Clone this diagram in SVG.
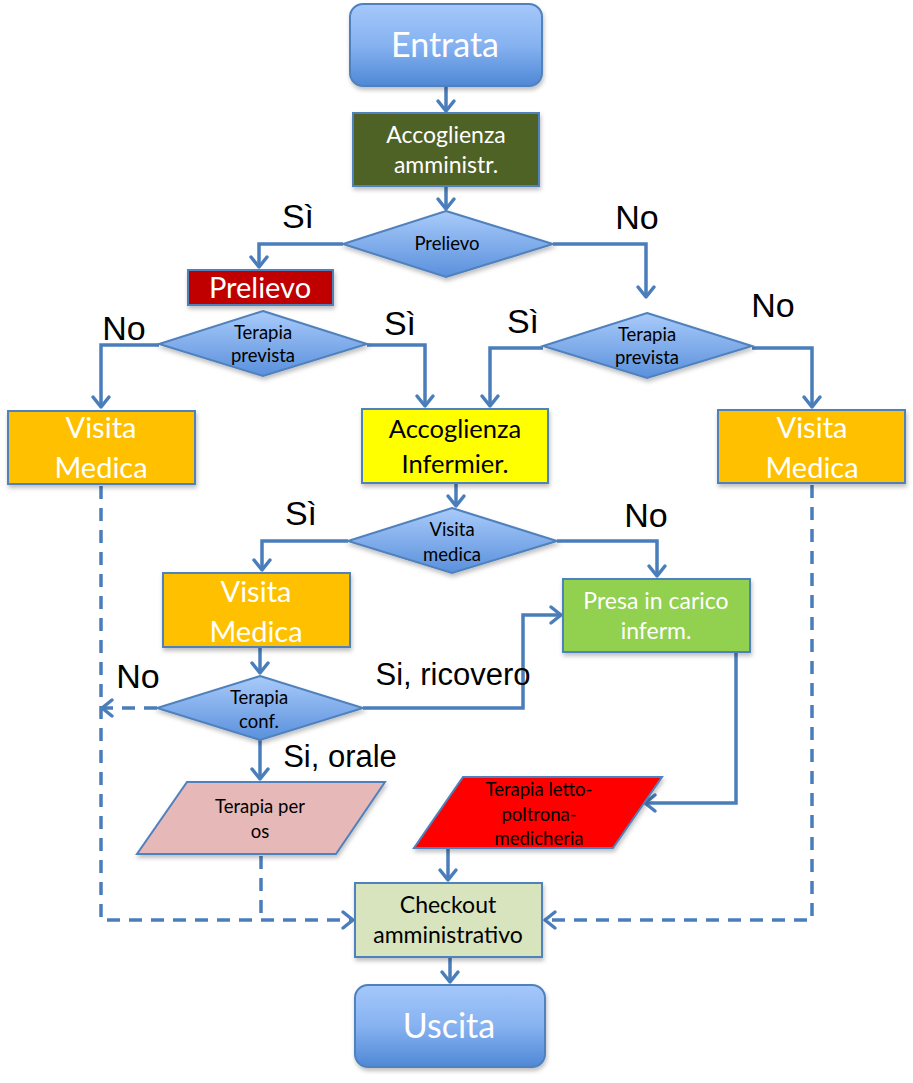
<svg xmlns="http://www.w3.org/2000/svg" width="913" height="1083" viewBox="0 0 913 1083">
<defs>
<linearGradient id="gRound" x1="0" y1="0" x2="0" y2="1">
<stop offset="0" stop-color="#a5c8fb"/>
<stop offset="0.5" stop-color="#86b2f0"/>
<stop offset="1" stop-color="#4f88d6"/>
</linearGradient>
<linearGradient id="gDia" x1="0" y1="0" x2="0" y2="1">
<stop offset="0" stop-color="#a9cbfa"/>
<stop offset="1" stop-color="#5a90dc"/>
</linearGradient>
<filter id="sh" x="-10%" y="-10%" width="125%" height="135%">
<feDropShadow dx="1" dy="3" stdDeviation="2" flood-color="#000" flood-opacity="0.25"/>
</filter>
<marker id="ah" markerUnits="userSpaceOnUse" viewBox="-13 -10 15 20" markerWidth="15" markerHeight="20" refX="0" refY="0" orient="auto" overflow="visible">
<path d="M-10,-8 L0,0 L-10,8" fill="none" stroke="#4a7ebb" stroke-width="3.5" stroke-linecap="round" stroke-linejoin="round"/>
</marker>
</defs>
<style>
.box{stroke:#4f81bd;stroke-width:2;filter:url(#sh)}
.c{fill:none;stroke:#4a7ebb;stroke-width:3.5;marker-end:url(#ah)}
.cn{fill:none;stroke:#4a7ebb;stroke-width:3.5}
.d{stroke-dasharray:13 9}
.t{font-family:Lato,"Liberation Sans",sans-serif;text-anchor:middle}
.w{fill:#ffffff}
.k{fill:#000000}
.lab{font-family:"Liberation Sans",Arial,sans-serif;fill:#000;text-anchor:middle}
</style>

<g id="connectors">
<path class="c" d="M446,86 V111"/>
<path class="c" d="M446,186 V209"/>
<path class="c" d="M343,244 H259 V267"/>
<path class="c" d="M553,244 H646 V297"/>
<path class="c" d="M159,345 H101 V407"/>
<path class="c" d="M367,345 H425 V406"/>
<path class="c" d="M543,348 H490 V406"/>
<path class="c" d="M752,348 H812 V407"/>
<path class="c" d="M456,483 V506"/>
<path class="c" d="M348,541 H262 V570"/>
<path class="c" d="M557,541 H657 V576"/>
<path class="c" d="M260,647 V673"/>
<path class="c d" d="M157,708 H102"/>
<path class="c" d="M363,708 H523 V615 H561"/>
<path class="c" d="M260,740 V779"/>
<path class="c" d="M736,652 V803 H645"/>
<path class="c" d="M448,848 V880"/>
<path class="cn d" d="M261,856 V920"/>
<path class="c d" d="M101,486 V920 H353"/>
<path class="c d" d="M812,485 V920 H545"/>
<path class="c" d="M450,957 V982"/>
</g>

<g id="entrata">
<rect class="box" x="350" y="4" width="192" height="82" rx="13" fill="url(#gRound)"/>
<text class="t w" x="445" y="57" font-size="34">Entrata</text>
</g>

<g id="accoglienza-amministr">
<rect class="box" x="353" y="113" width="186" height="73" fill="#4f6228"/>
<text class="t w" x="446" y="143" font-size="23">Accoglienza</text>
<text class="t w" x="446" y="173" font-size="23">amministr.</text>
</g>

<g id="dia-prelievo">
<polygon class="box" points="446,211 553,244 446,277 343,244" fill="url(#gDia)"/>
<text class="t k" x="447" y="250" font-size="18.5">Prelievo</text>
</g>

<g id="prelievo">
<rect class="box" x="188" y="270" width="145" height="35" fill="#c00000"/>
<text class="t w" x="260" y="298" font-size="29">Prelievo</text>
</g>

<g id="dia-terapia-sx">
<polygon class="box" points="263,311 367,344 263,376 159,344" fill="url(#gDia)"/>
<text class="t k" x="263" y="339" font-size="18.5">Terapia</text>
<text class="t k" x="263" y="362" font-size="18.5">prevista</text>
</g>

<g id="dia-terapia-dx">
<polygon class="box" points="647,313 752,346 647,378 543,346" fill="url(#gDia)"/>
<text class="t k" x="647" y="341" font-size="18.5">Terapia</text>
<text class="t k" x="647" y="364" font-size="18.5">prevista</text>
</g>

<g id="visita-sx">
<rect class="box" x="8" y="411" width="187" height="73" fill="#ffc000"/>
<text class="t w" x="101" y="438" font-size="29">Visita</text>
<text class="t w" x="101" y="478" font-size="29">Medica</text>
</g>

<g id="accoglienza-infermier">
<rect class="box" x="362" y="409" width="186" height="74" fill="#ffff00"/>
<text class="t k" x="455" y="438" font-size="25.5">Accoglienza</text>
<text class="t k" x="455" y="473" font-size="25.5">Infermier.</text>
</g>

<g id="visita-dx">
<rect class="box" x="718" y="410" width="187" height="73" fill="#ffc000"/>
<text class="t w" x="812" y="438" font-size="29">Visita</text>
<text class="t w" x="812" y="478" font-size="29">Medica</text>
</g>

<g id="dia-visita">
<polygon class="box" points="452,508 557,541 452,573 348,541" fill="url(#gDia)"/>
<text class="t k" x="452" y="536" font-size="18.5">Visita</text>
<text class="t k" x="452" y="561" font-size="18.5">medica</text>
</g>

<g id="visita-mid">
<rect class="box" x="163" y="573" width="187" height="74" fill="#ffc000"/>
<text class="t w" x="256" y="602" font-size="29">Visita</text>
<text class="t w" x="256" y="642" font-size="29">Medica</text>
</g>

<g id="presa">
<rect class="box" x="563" y="579" width="187" height="73" fill="#92d050"/>
<text class="t w" x="656" y="609" font-size="23">Presa in carico</text>
<text class="t w" x="656" y="639" font-size="23">inferm.</text>
</g>

<g id="dia-terapia-conf">
<polygon class="box" points="260,676 363,708 260,740 157,708" fill="url(#gDia)"/>
<text class="t k" x="259" y="704" font-size="18.5">Terapia</text>
<text class="t k" x="259" y="728" font-size="18.5">conf.</text>
</g>

<g id="terapia-os">
<polygon class="box" points="187,782 385,782 336,854 137,854" fill="#e6b8b7"/>
<text class="t k" x="260" y="813" font-size="18.5">Terapia per</text>
<text class="t k" x="260" y="838" font-size="18.5">os</text>
</g>

<g id="terapia-letto">
<polygon class="box" points="463,777 662,777 613,848 414,848" fill="#ff0000"/>
<text class="t k" x="539" y="796" font-size="18.5">Terapia letto-</text>
<text class="t k" x="539" y="821" font-size="18.5">poltrona-</text>
<text class="t k" x="539" y="845" font-size="18.5">medicheria</text>
</g>

<g id="checkout">
<rect class="box" x="355" y="883" width="187" height="74" fill="#d7e4bd"/>
<text class="t k" x="448" y="913" font-size="23">Checkout</text>
<text class="t k" x="448" y="943" font-size="23">amministrativo</text>
</g>

<g id="uscita">
<rect class="box" x="355" y="985" width="190" height="82" rx="13" fill="url(#gRound)"/>
<text class="t w" x="449" y="1038" font-size="34">Uscita</text>
</g>

<g id="labels">
<text class="lab" x="298" y="228" font-size="34">Sì</text>
<text class="lab" x="637" y="229" font-size="34">No</text>
<text class="lab" x="124" y="340" font-size="34">No</text>
<text class="lab" x="400" y="335" font-size="34">Sì</text>
<text class="lab" x="523" y="333" font-size="34">Sì</text>
<text class="lab" x="773" y="317" font-size="34">No</text>
<text class="lab" x="301" y="525" font-size="34">Sì</text>
<text class="lab" x="646" y="527" font-size="34">No</text>
<text class="lab" x="138" y="688" font-size="34">No</text>
<text class="lab" x="453" y="685" font-size="31">Si, ricovero</text>
<text class="lab" x="340" y="767" font-size="31">Si, orale</text>
</g>
</svg>
